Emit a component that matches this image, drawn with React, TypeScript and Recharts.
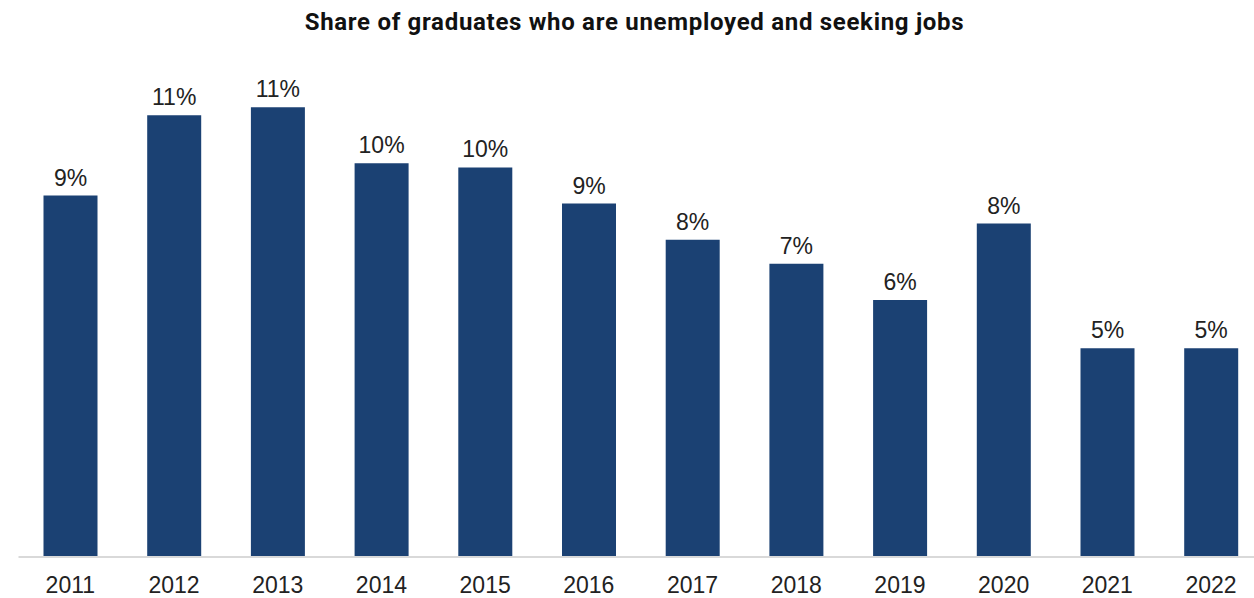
import { BarChart, Bar, XAxis, YAxis, LabelList } from "recharts"

const years = ["2011", "2012", "2013", "2014", "2015", "2016", "2017", "2018", "2019", "2020", "2021", "2022"]
const unemployedShare = [9.0, 11.0, 11.2, 9.8, 9.7, 8.8, 7.9, 7.3, 6.4, 8.3, 5.2, 5.2]

const chartData = years.map((year, i) => ({ year, share: unemployedShare[i] }))

const textFont = "'Liberation Sans', Arial, sans-serif"

export default function App() {
  return (
    <div
      style={{
        position: "absolute",
        left: 0,
        top: 0,
        width: 1254,
        height: 598,
        overflow: "hidden",
        background: "#fff",
      }}
    >
      <div
        style={{
          position: "absolute",
          left: 0,
          top: 8,
          width: 1269,
          textAlign: "center",
          fontFamily: "Roboto, 'Liberation Sans', sans-serif",
          fontWeight: 700,
          fontSize: 24,
          letterSpacing: 0.7,
          color: "#111",
        }}
      >
        Share of graduates who are unemployed and seeking jobs
      </div>
      <BarChart
        width={1270}
        height={598}
        data={chartData}
        margin={{ top: 75, right: 7.1, bottom: 0, left: 18.5 }}
      >
        <XAxis
          dataKey="year"
          height={41}
          axisLine={{ stroke: "#d9d9d9", strokeWidth: 2 }}
          tickLine={false}
          tick={{ fontSize: 23, fill: "#222", fontFamily: textFont }}
          tickMargin={14}
        />
        <YAxis hide domain={[0, 12]} />
        <Bar dataKey="share" fill="#1b4173" barSize={54} isAnimationActive={false}>
          <LabelList
            dataKey="share"
            position="top"
            offset={10}
            formatter={(v: number) => `${Math.round(v)}%`}
            style={{ fontSize: 23, fill: "#222", fontFamily: textFont }}
          />
        </Bar>
      </BarChart>
    </div>
  )
}
